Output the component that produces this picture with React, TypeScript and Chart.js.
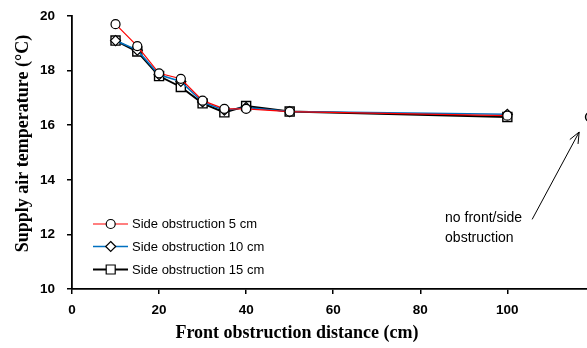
import React, { useEffect, useRef } from "react";
import { Chart, registerables } from "chart.js";

Chart.register(...registerables);

const frontDistance = [10, 15, 20, 25, 30, 35, 40, 50, 100];
const side5cm = [19.7, 18.9, 17.9, 17.7, 16.9, 16.6, 16.6, 16.5, 16.35];
const side10cm = [19.1, 18.75, 17.85, 17.6, 16.85, 16.55, 16.65, 16.5, 16.4];
const side15cm = [19.1, 18.7, 17.8, 17.4, 16.8, 16.47, 16.7, 16.5, 16.3];
const noObstructionX = [119];
const noObstructionY = [16.3];
const xTickValues = [0, 20, 40, 60, 80, 100];

const seriesLabels = ["Side obstruction 5 cm", "Side obstruction 10 cm", "Side obstruction 15 cm"];
const seriesColors = ["#ff0000", "#0070c0", "#000000"];
const seriesMarkers = ["circle", "rectRot", "rect"];

const xTitle = "Front obstruction distance (cm)";
const yTitle = "Supply air temperature (°C)";
const noteLines = ["no front/side", "obstruction"];
// annotation anchor (data coords)
const noteX = 85.7;
const noteY = [12.6, 11.87];
const arrowFrom = { x: 105.7, y: 12.55 };
const arrowTo = { x: 116.5, y: 15.75 };

const tickFont = { family: "'Liberation Sans', Arial, sans-serif", size: 13.5, weight: "bold" as const };

function drawMarker(ctx: CanvasRenderingContext2D, style: string, x: number, y: number) {
  ctx.save();
  ctx.beginPath();
  if (style === "circle") {
    ctx.arc(x, y, 4.5, 0, Math.PI * 2);
  } else if (style === "rectRot") {
    ctx.moveTo(x, y - 5);
    ctx.lineTo(x + 5, y);
    ctx.lineTo(x, y + 5);
    ctx.lineTo(x - 5, y);
    ctx.closePath();
  } else {
    ctx.rect(x - 4.5, y - 4.5, 9, 9);
  }
  ctx.fillStyle = "#fff";
  ctx.fill();
  ctx.lineWidth = 1.2;
  ctx.strokeStyle = "#000";
  ctx.stroke();
  ctx.restore();
}

const overlayPlugin = {
  id: "overlay",
  afterDraw(chart: any) {
    const ctx: CanvasRenderingContext2D = chart.ctx;
    const xs = chart.scales.x;
    const ys = chart.scales.y;
    const area = chart.chartArea;
    ctx.save();
    // axis titles
    ctx.fillStyle = "#000";
    ctx.font = "bold 18px 'Liberation Serif', 'Times New Roman', serif";
    ctx.textAlign = "center";
    ctx.textBaseline = "middle";
    ctx.fillText(xTitle, 297, 333);
    ctx.save();
    ctx.translate(23, (area.top + area.bottom) / 2 - 9);
    ctx.rotate(-Math.PI / 2);
    ctx.fillText(yTitle, 0, 0);
    ctx.restore();

    // legend
    ctx.font = "13px 'Liberation Sans', Arial, sans-serif";
    ctx.textAlign = "left";
    const rows = [224, 246.5, 269.5];
    seriesLabels.forEach((lab, i) => {
      const y = rows[i];
      ctx.beginPath();
      ctx.moveTo(93, y);
      ctx.lineTo(128, y);
      ctx.strokeStyle = seriesColors[i];
      ctx.lineWidth = i === 0 ? 1.2 : i === 1 ? 1.6 : 2;
      ctx.stroke();
      drawMarker(ctx, seriesMarkers[i], 110.7, y);
      ctx.fillStyle = "#000";
      ctx.fillText(lab, 132, y + 0.5);
    });

    // annotation text
    ctx.font = "14px 'Liberation Sans', Arial, sans-serif";
    ctx.fillStyle = "#000";
    noteLines.forEach((t, i) => {
      ctx.fillText(t, xs.getPixelForValue(noteX), ys.getPixelForValue(noteY[i]));
    });

    // arrow
    const x1 = xs.getPixelForValue(arrowFrom.x);
    const y1 = ys.getPixelForValue(arrowFrom.y);
    const x2 = xs.getPixelForValue(arrowTo.x);
    const y2 = ys.getPixelForValue(arrowTo.y);
    ctx.strokeStyle = "#000";
    ctx.lineWidth = 1;
    ctx.beginPath();
    ctx.moveTo(x1, y1);
    ctx.lineTo(x2, y2);
    const ang = Math.atan2(y2 - y1, x2 - x1);
    const head = 12;
    const spread = 0.4;
    ctx.moveTo(x2, y2);
    ctx.lineTo(x2 - head * Math.cos(ang - spread), y2 - head * Math.sin(ang - spread));
    ctx.moveTo(x2, y2);
    ctx.lineTo(x2 - head * Math.cos(ang + spread), y2 - head * Math.sin(ang + spread));
    ctx.stroke();
    ctx.restore();
  },
};

export default function App() {
  const ref = useRef<HTMLCanvasElement>(null);
  useEffect(() => {
    if (!ref.current) return;
    const mk = (vals: number[]) => frontDistance.map((x, i) => ({ x, y: vals[i] }));
    const chart = new Chart(ref.current, {
      type: "line",
      data: {
        datasets: [
          {
            label: seriesLabels[0],
            data: mk(side5cm),
            borderColor: seriesColors[0],
            borderWidth: 1.2,
            pointStyle: "circle",
            pointRadius: 4.5,
            pointBackgroundColor: "#fff",
            pointBorderColor: "#000",
            pointBorderWidth: 1.2,
            tension: 0,
          },
          {
            label: seriesLabels[1],
            data: mk(side10cm),
            borderColor: seriesColors[1],
            borderWidth: 1.6,
            pointStyle: "rectRot",
            pointRadius: 5,
            pointBackgroundColor: "#fff",
            pointBorderColor: "#000",
            pointBorderWidth: 1.2,
            tension: 0,
          },
          {
            label: seriesLabels[2],
            data: mk(side15cm),
            borderColor: seriesColors[2],
            borderWidth: 2,
            pointStyle: "rect",
            pointRadius: 6.4,
            pointBackgroundColor: "#fff",
            pointBorderColor: "#000",
            pointBorderWidth: 1.4,
            tension: 0,
          },
          {
            label: "no obstruction",
            data: noObstructionX.map((x, i) => ({ x, y: noObstructionY[i] })),
            showLine: false,
            pointStyle: "circle",
            pointRadius: 4.5,
            pointBackgroundColor: "#fff",
            pointBorderColor: "#000",
            pointBorderWidth: 1.5,
            clip: false,
          } as any,
        ],
      },
      options: {
        animation: false,
        responsive: false,
        maintainAspectRatio: false,
        layout: { autoPadding: false, padding: { top: 16, right: 0, left: 0, bottom: 0 } },
        plugins: { legend: { display: false }, tooltip: { enabled: false } },
        scales: {
          x: {
            type: "linear",
            min: 0,
            max: 118.3,
            afterBuildTicks: (s: any) => {
              s.ticks = xTickValues.map((v) => ({ value: v }));
            },
            afterFit: (s: any) => {
              s.height = 59;
              s.paddingLeft = 0;
              s.paddingRight = 0;
            },
            ticks: { font: tickFont, color: "#000", padding: 8, maxRotation: 0 },
            grid: { display: true, drawOnChartArea: false, drawTicks: true, tickLength: 5, color: "#000", lineWidth: 1.5 },
            border: { display: true, color: "#000", width: 1.8 },
          },
          y: {
            type: "linear",
            min: 10,
            max: 20,
            ticks: { stepSize: 2, font: tickFont, color: "#000", padding: 12 },
            afterFit: (s: any) => {
              s.width = 72;
              s.paddingTop = 0;
              s.paddingBottom = 0;
            },
            grid: { display: true, drawOnChartArea: false, drawTicks: true, tickLength: 5, color: "#000", lineWidth: 1.5 },
            border: { display: true, color: "#000", width: 1.8 },
          },
        },
      },
      plugins: [overlayPlugin],
    });
    return () => chart.destroy();
  }, []);
  return (
    <div style={{ position: "absolute", left: 0, top: 0, width: 587, height: 348, background: "#fff" }}>
      <canvas ref={ref} width={587} height={348} style={{ width: 587, height: 348, display: "block" }} />
    </div>
  );
}
